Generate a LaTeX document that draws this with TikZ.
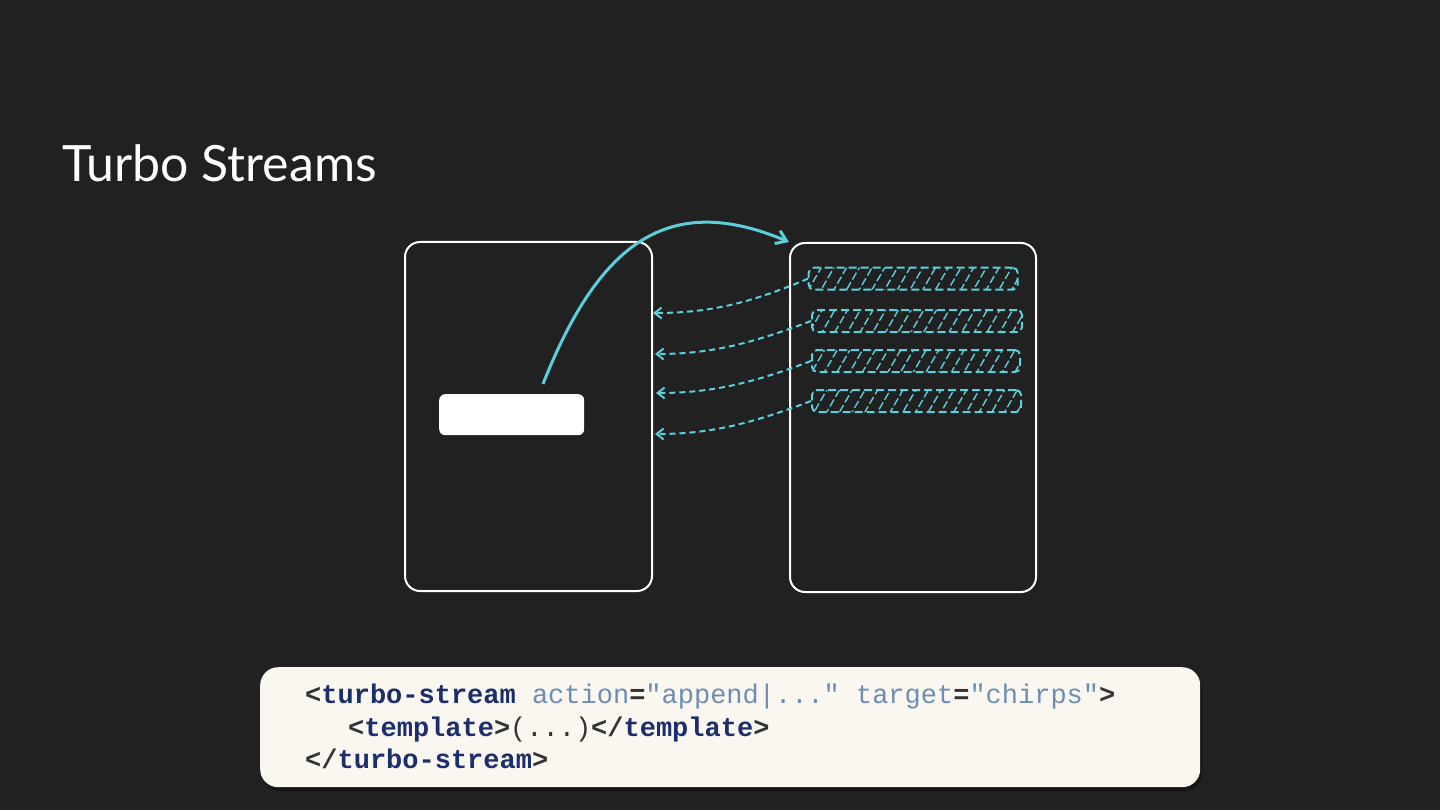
\documentclass[tikz,border=0pt]{standalone}
\usepackage{fontspec}
\setmonofont{Liberation Mono}
\newfontfamily\titlefont{Lato}
\usetikzlibrary{patterns.meta,arrows.meta}
\definecolor{bg}{HTML}{212121}
\definecolor{cy}{HTML}{5CCFDD}
\definecolor{codebg}{HTML}{FAF6F0}
\definecolor{tagc}{HTML}{1C2E6B}
\definecolor{attc}{HTML}{6D8DB3}
\definecolor{punc}{HTML}{333333}
\newcommand\ctag[1]{\textbf{\color{tagc}#1}}
\newcommand\cpun[1]{\textbf{\color{punc}#1}}
\newcommand\cattr[1]{{\color{attc}#1}}
\begin{document}
\begin{tikzpicture}[x=1pt,y=-1pt,
  panel/.style={draw=white,line width=2pt,rounded corners=15pt,inner sep=0pt,anchor=north west},
  hatch/.style={draw=cy,line width=2pt,dash pattern=on 8pt off 4pt,rounded corners=5pt,inner sep=0pt,anchor=north west,
    pattern={Lines[angle=60,distance=11pt,line width=1.4pt]},pattern color=cy,minimum width=209pt,minimum height=22pt},
  flow/.style={draw=cy,line width=3pt,-{Straight Barb[length=10pt,width=14pt,line width=3pt]}},
  back/.style={draw=cy,line width=2pt,dash pattern=on 6pt off 4pt,-{Straight Barb[length=7pt,width=11pt,line width=2pt]}},
  code/.style={anchor=base west,inner sep=0pt,font=\ttfamily\fontsize{27}{32}\selectfont}]
\fill[bg] (0,0) rectangle (1440,810);
\useasboundingbox (0,0) rectangle (1440,810);
\node[anchor=base west,text=white,inner sep=0pt,font=\titlefont\fontsize{50}{60}\selectfont] (title) at (62,182) {Turbo Streams};
\node[panel,minimum width=247pt,minimum height=349pt] (left) at (404,241) {};
\node[panel,minimum width=246pt,minimum height=349pt] (right) at (789,242) {};
\node[fill=white,rounded corners=6pt,inner sep=0pt,anchor=north west,minimum width=145pt,minimum height=41pt] (bar) at (439,394) {};
\node[hatch] (h1) at (808,267) {};
\node[hatch,minimum width=210pt] (h2) at (811,309) {};
\node[hatch,minimum width=208pt] (h3) at (811,349) {};
\node[hatch] (h4) at (811,389) {};
\coordinate (s) at (543,384);
\draw[flow] (s) .. controls (600,240) and (670,192) .. (right.north west);
\coordinate (e1) at (653,313);
\coordinate (e2) at (655,354);
\coordinate (e3) at (656,393);
\coordinate (e4) at (655,434);
\draw[back] (h1.west) .. controls (750,303) and (710,313) .. (e1);
\draw[back] (h2.west) .. controls (750,344) and (710,354) .. (e2);
\draw[back] (h3.west) .. controls (750,384) and (710,393) .. (e3);
\draw[back] (h4.west) .. controls (750,424) and (710,434) .. (e4);
\fill[black,opacity=0.35,rounded corners=18pt] (262,671) rectangle (1202,791);
\node[fill=codebg,rounded corners=18pt,inner sep=0pt,anchor=north west,minimum width=940pt,minimum height=120pt] (codebox) at (260,667) {};
\node[code] (l1) at (305,703) {\cpun{<}\ctag{turbo-stream} \cattr{action}\cpun{=}\cattr{"append|..."} \cattr{target}\cpun{=}\cattr{"chirps"}\cpun{>}};
\node[code] (l2) at (348,736) {\cpun{<}\ctag{template}\cpun{>}{\color{punc}(...)}\cpun{</}\ctag{template}\cpun{>}};
\node[code] (l3) at (305,768) {\cpun{</}\ctag{turbo-stream}\cpun{>}};
\end{tikzpicture}
\end{document}
